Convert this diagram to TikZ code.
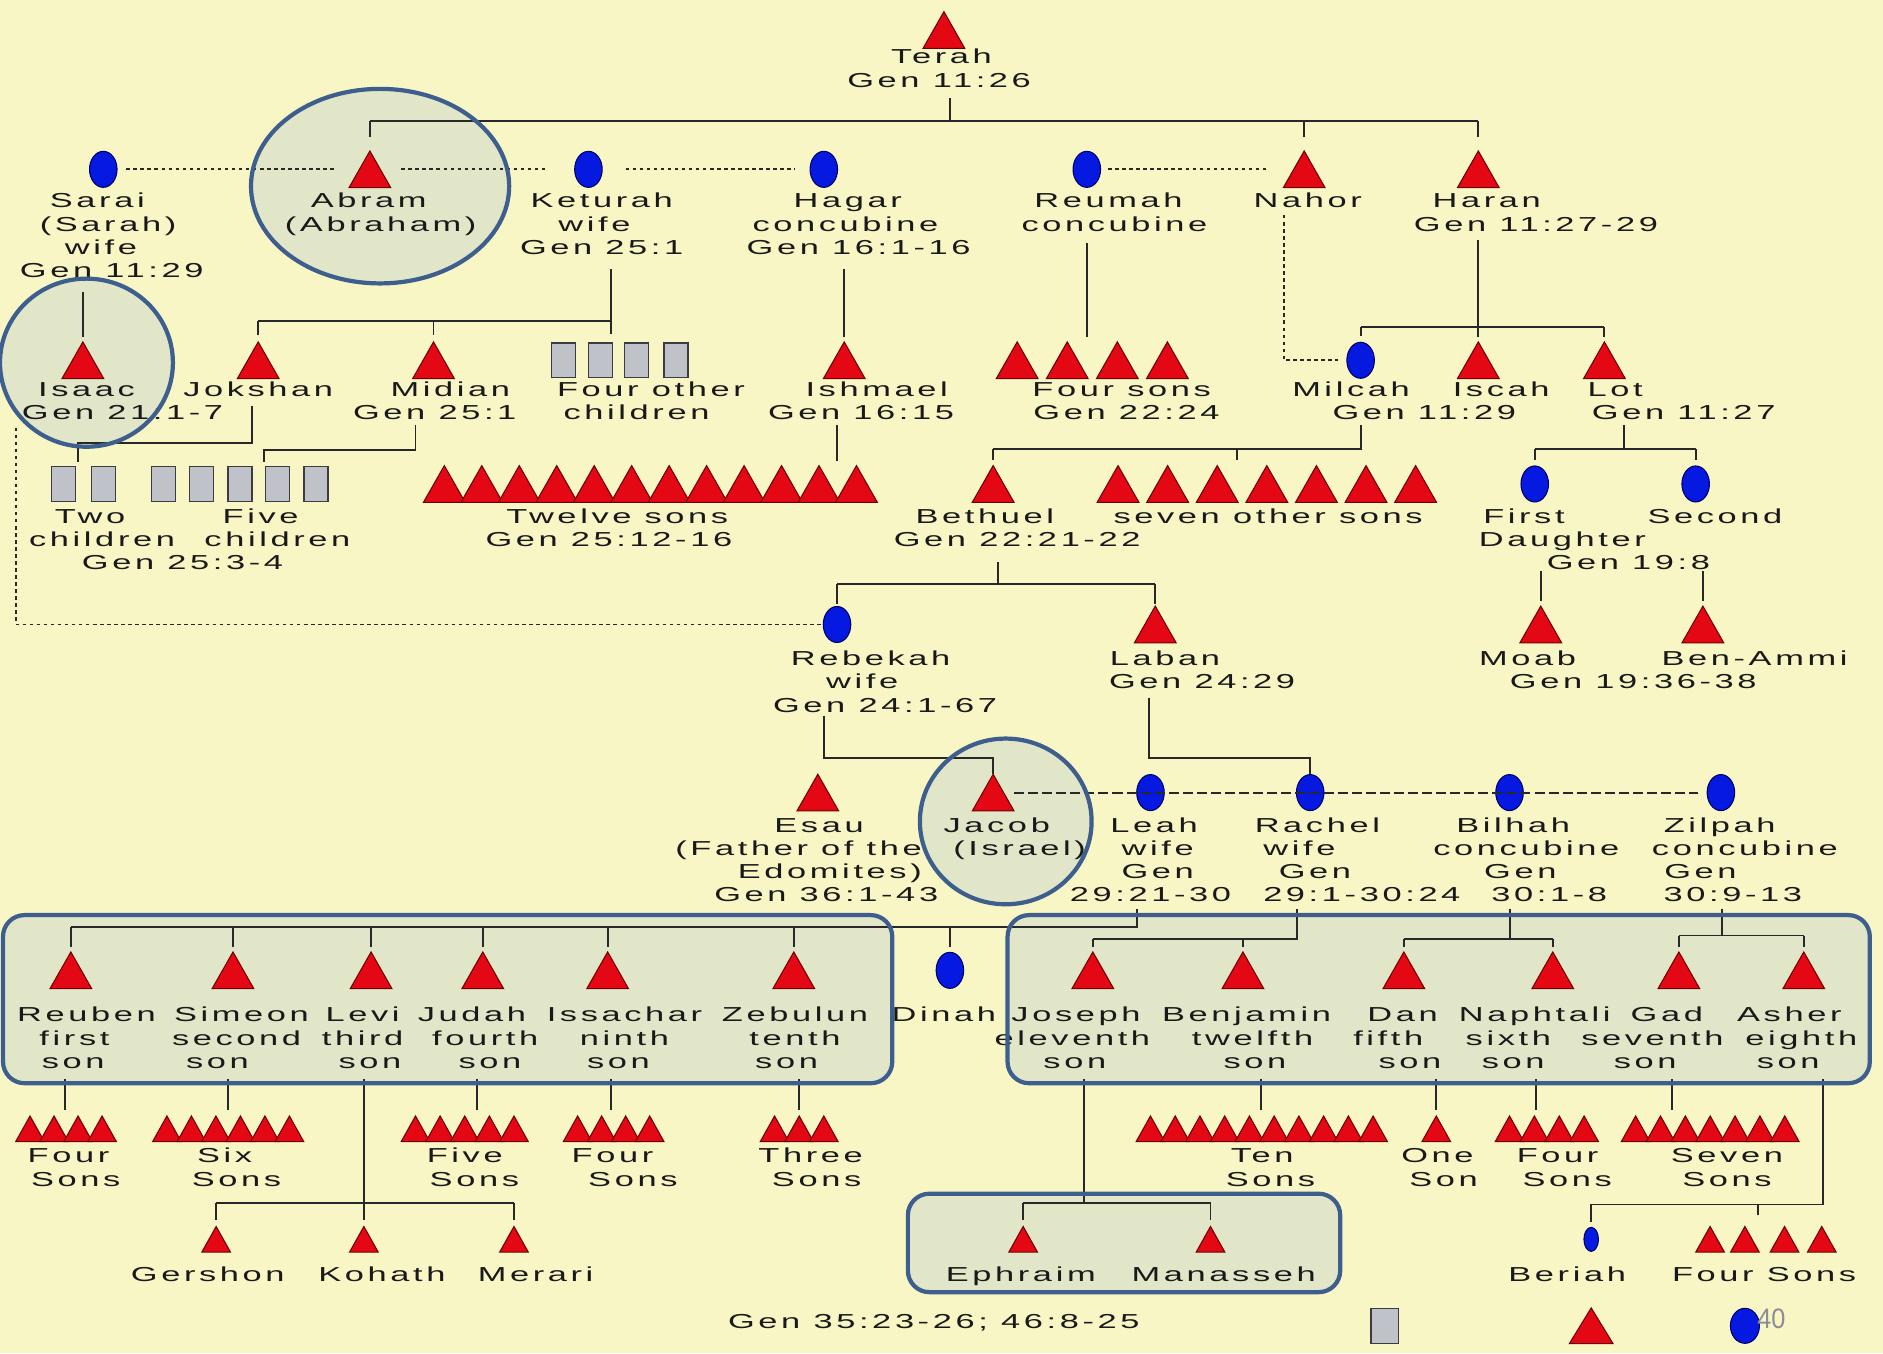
\documentclass[tikz,border=0pt]{standalone}
\usepackage{fontspec}
\setmainfont{Liberation Sans}[FakeStretch=1.7,LetterSpace=18]
\newfontfamily\pgfont{Liberation Sans}[FakeStretch=0.9]
\usetikzlibrary{shapes.geometric,calc}
\definecolor{bgcol}{RGB}{249,246,198}
\definecolor{hlfill}{RGB}{226,230,200}
\definecolor{hlline}{RGB}{62,94,142}
\definecolor{linecol}{RGB}{40,40,40}
\definecolor{txtcol}{RGB}{25,25,25}
\definecolor{redf}{RGB}{228,8,20}
\definecolor{redl}{RGB}{110,0,0}
\definecolor{bluef}{RGB}{5,25,225}
\definecolor{bluel}{RGB}{0,0,100}
\definecolor{greyf}{RGB}{192,194,202}
\definecolor{greyl}{RGB}{60,60,64}
\definecolor{pgcol}{RGB}{140,140,150}
\newcommand\lfont{\fontsize{11.5}{13.3}\selectfont}
\tikzset{
  ln/.style={line width=1.1pt,draw=linecol},
  dot/.style={ln,dash pattern=on 2pt off 2pt},
  dsh/.style={ln,dash pattern=on 5.7pt off 2.3pt},
  lab/.style={anchor=base,inner sep=0pt,text=txtcol,font=\lfont},
  bigtri/.style={inner sep=0pt,minimum width=0.82cm,minimum height=0.72cm},
  smalltri/.style={inner sep=0pt,minimum width=0.56cm,minimum height=0.5cm},
  legtri/.style={inner sep=0pt,minimum width=0.86cm,minimum height=0.7cm},
  trifill/.style={fill=redf,draw=redl,line width=0.6pt},
  ellnode/.style={ellipse,inner sep=0pt,minimum width=0.55cm,minimum height=0.72cm,fill=bluef,draw=bluel,line width=0.6pt},
  smallell/.style={ellnode,minimum width=0.29cm,minimum height=0.48cm},
  legell/.style={ellnode,minimum width=0.58cm,minimum height=0.7cm},
  rectg/.style={rectangle,inner sep=0pt,minimum width=0.48cm,minimum height=0.69cm,fill=greyf,draw=greyl,line width=0.8pt},
  legrect/.style={rectg,minimum width=0.55cm,minimum height=0.7cm},
  hlf/.style={fill=hlfill},
  hlo/.style={draw=hlline,line width=2.4pt},
}
\newcommand\tri[4][bigtri]{\node[#1] (#2) at (#3,#4) {};\filldraw[trifill] (#2.south west) -- (#2.south east) -- (#2.north) -- cycle;}
\newcommand\fem[4][ellnode]{\node[#1] (#2) at (#3,#4) {};}
\newcommand\gry[4][rectg]{\node[#1] (#2) at (#3,#4) {};}
\newcommand\lbl[4]{\node[lab] (#1) at (#2,#3) {#4};}
\newcommand\tick[3][3pt]{\draw[ln] (#2 -| #3) -- ([yshift=#1]#3.north);}
\begin{document}
\begin{tikzpicture}[x=0.024cm,y=-0.024cm]
\useasboundingbox (0,0) rectangle (1568,1127);
\fill[bgcol] (0,0) rectangle (1568,1127);
% highlight fills
\fill[hlf] (316.5,155) ellipse [x radius=2.58cm, y radius=1.944cm];
\fill[hlf] (72,302) ellipse [x radius=1.728cm, y radius=1.68cm];
\fill[hlf] (837.5,684) ellipse [x radius=1.716cm, y radius=1.656cm];
\fill[hlf,rounded corners=0.43cm] (2.5,762) rectangle (743,902);
\fill[hlf,rounded corners=0.43cm] (839,762) rectangle (1557,902);
\fill[hlf,rounded corners=0.43cm] (756,994) rectangle (1116,1076);
% ---------- shapes
\tri{terah}{786}{25}
\fem{sarai}{86}{141}
\tri{abram}{308}{141}
\fem{keturah}{490}{141}
\fem{hagar}{686}{141}
\fem{reumah}{905}{141}
\tri{nahor}{1086}{141}
\tri{haran}{1231}{141}
\tri{isaac}{69}{300}
\tri{jokshan}{215}{300}
\tri{midian}{361}{300}
\foreach \i/\x in {1/469,2/500,3/530,4/563}{\gry{oc\i}{\x}{300}}
\tri{ishmael}{703}{300}
\foreach \i in {0,...,3}{\tri{fs\i}{847+41.7*\i}{300}}
\fem{milcah}{1133}{300}
\tri{iscah}{1231}{300}
\tri{lot}{1336}{300}
\gry{tc1}{53}{403}
\gry{tc2}{86}{403}
\foreach \i/\x in {1/136,2/168,3/200,4/231,5/263}{\gry{fc\i}{\x}{403}}
\foreach \i in {0,...,11}{\tri{tw\i}{370+31.2*\i}{403}}
\tri{bethuel}{827}{403}
\foreach \i in {0,...,6}{\tri{sv\i}{931+41.3*\i}{403}}
\fem{first}{1278}{403}
\fem{second}{1412}{403}
\fem{rebekah}{697}{520}
\tri{laban}{962}{520}
\tri{moab}{1283}{520}
\tri{benammi}{1418}{520}
\tri{esau}{681}{660}
\tri{jacob}{827}{660}
\fem{leah}{958}{660}
\fem{rachel}{1091}{660}
\fem{bilhah}{1257}{660}
\fem{zilpah}{1433}{660}
\tri{reuben}{59}{808}
\tri{simeon}{194}{808}
\tri{levi}{309}{808}
\tri{judah}{402}{808}
\tri{issachar}{506}{808}
\tri{zebulun}{661}{808}
\fem{dinah}{791}{808}
\tri{joseph}{910}{808}
\tri{benjamin}{1035}{808}
\tri{dan}{1169}{808}
\tri{naphtali}{1293}{808}
\tri{gad}{1398}{808}
\tri{asher}{1502}{808}
\foreach \i in {0,...,3}{\tri[smalltri]{rs\i}{25+20*\i}{940}}
\foreach \i in {0,...,5}{\tri[smalltri]{ss\i}{139+20.4*\i}{940}}
\foreach \i in {0,...,4}{\tri[smalltri]{js\i}{346+20.5*\i}{940}}
\foreach \i in {0,...,3}{\tri[smalltri]{is\i}{481+20*\i}{940}}
\foreach \i in {0,...,2}{\tri[smalltri]{zs\i}{645+20.5*\i}{940}}
\foreach \i in {0,...,9}{\tri[smalltri]{bs\i}{958+20.6*\i}{940}}
\tri[smalltri]{ds0}{1196}{940}
\foreach \i in {0,...,3}{\tri[smalltri]{ns\i}{1257+20.7*\i}{940}}
\foreach \i in {0,...,6}{\tri[smalltri]{gs\i}{1362+20.7*\i}{940}}
\tri[smalltri]{gershon}{180}{1032}
\tri[smalltri]{kohath}{303}{1032}
\tri[smalltri]{merari}{428}{1032}
\tri[smalltri]{ephraim}{852}{1032}
\tri[smalltri]{manasseh}{1008}{1032}
\fem[smallell]{beriah}{1325}{1032}
\foreach \i/\x in {0/1424,1/1453,2/1486,3/1517}{\tri[smalltri]{as\i}{\x}{1032}}
\gry[legrect]{leg1}{1153}{1104}
\tri[legtri]{leg2}{1325}{1104}
\fem[legell]{leg3}{1453}{1104}
% ---------- labels
\lbl{terahA}{784}{53}{Terah}
\lbl{terahB}{782}{73}{Gen 11:26}
\lbl{saraiA}{81}{173}{Sarai}
\lbl{saraiB}{90}{192.4}{(Sarah)}
\lbl{saraiC}{84}{211.8}{wife}
\lbl{saraiD}{93}{231.2}{Gen 11:29}
\lbl{abramA}{307}{173}{Abram}
\lbl{abramB}{317}{192.4}{(Abraham)}
\lbl{keturahA}{501}{173}{Keturah}
\lbl{keturahB}{495}{192.4}{wife}
\lbl{keturahC}{501}{211.8}{Gen 25:1}
\lbl{hagarA}{706}{173}{Hagar}
\lbl{hagarB}{704}{192.4}{concubine}
\lbl{hagarC}{715}{211.8}{Gen 16:1-16}
\lbl{reumahA}{923}{173}{Reumah}
\lbl{reumahB}{928}{192.4}{concubine}
\lbl{nahorA}{1089}{173}{Nahor}
\lbl{haranA}{1238}{173}{Haran}
\lbl{haranB}{1279}{192.4}{Gen 11:27-29}
\lbl{isaacA}{72}{330}{Isaac}
\lbl{isaacB}{102}{349.4}{Gen 21:1-7}
\lbl{jokshanA}{215}{330}{Jokshan}
\lbl{midianA}{375}{330}{Midian}
\lbl{midianB}{362}{349.4}{Gen 25:1}
\lbl{otherA}{542}{330}{Four other}
\lbl{otherB}{530}{349.4}{children}
\lbl{ishmaelA}{730}{330}{Ishmael}
\lbl{ishmaelB}{717}{349.4}{Gen 16:15}
\lbl{foursonsA}{934}{330}{Four sons}
\lbl{foursonsB}{938}{349.4}{Gen 22:24}
\lbl{milcahA}{1125}{330}{Milcah}
\lbl{milcahB}{1186}{349.4}{Gen 11:29}
\lbl{iscahA}{1250}{330}{Iscah}
\lbl{lotA}{1345}{330}{Lot}
\lbl{lotB}{1402}{349.4}{Gen 11:27}
\lbl{twoA}{75}{436}{Two}
\lbl{twoB}{85}{455}{children}
\lbl{fiveA}{217}{436}{Five}
\lbl{fiveB}{231}{455}{children}
\lbl{genA}{152}{474}{Gen 25:3-4}
\lbl{twelveA}{514}{436}{Twelve sons}
\lbl{twelveB}{507}{455}{Gen 25:12-16}
\lbl{bethuelA}{820}{436}{Bethuel}
\lbl{bethuelB}{847}{455}{Gen 22:21-22}
\lbl{sevenA}{1056}{436}{seven other sons}
\lbl{firstA}{1269}{436}{First}
\lbl{firstB}{1301}{455}{Daughter}
\lbl{firstC}{1356}{474}{Gen 19:8}
\lbl{secondA}{1428}{436}{Second}
\lbl{rebekahA}{725}{554.5}{Rebekah}
\lbl{rebekahB}{718}{573.5}{wife}
\lbl{rebekahC}{737}{593}{Gen 24:1-67}
\lbl{labanA}{970}{554.5}{Laban}
\lbl{labanB}{1001}{573.5}{Gen 24:29}
\lbl{moabA}{1272}{554.5}{Moab}
\lbl{benammiA}{1461}{554.5}{Ben-Ammi}
\lbl{moabB}{1360}{573.5}{Gen 19:36-38}
\lbl{esauA}{682}{693}{Esau}
\lbl{esauB}{665}{712.3}{(Father of the}
\lbl{esauC}{691}{731.6}{Edomites)}
\lbl{esauD}{688}{750.9}{Gen 36:1-43}
\lbl{jacobA}{830}{693}{Jacob}
\lbl{jacobB}{849}{712.3}{(Israel)}
\lbl{leahA}{961}{693}{Leah}
\lbl{leahB}{964}{712.3}{wife}
\lbl{leahC}{964}{731.6}{Gen}
\lbl{leahD}{958}{750.9}{29:21-30}
\lbl{rachelA}{1097}{693}{Rachel}
\lbl{rachelB}{1082}{712.3}{wife}
\lbl{rachelC}{1095}{731.6}{Gen}
\lbl{rachelD}{1134}{750.9}{29:1-30:24}
\lbl{bilhahA}{1260}{693}{Bilhah}
\lbl{bilhahB}{1271}{712.3}{concubine}
\lbl{bilhahC}{1266}{731.6}{Gen}
\lbl{bilhahD}{1290}{750.9}{30:1-8}
\lbl{zilpahA}{1432}{693}{Zilpah}
\lbl{zilpahB}{1453}{712.3}{concubine}
\lbl{zilpahC}{1416}{731.6}{Gen}
\lbl{zilpahD}{1443}{750.9}{30:9-13}
% row 6
\lbl{reubenA}{72}{851}{Reuben}
\lbl{reubenB}{62}{870.5}{first}
\lbl{reubenC}{61}{890}{son}
\lbl{simeonA}{201}{851}{Simeon}
\lbl{simeonB}{197}{870.5}{second}
\lbl{simeonC}{181}{890}{son}
\lbl{leviA}{302}{851}{Levi}
\lbl{leviB}{302}{870.5}{third}
\lbl{leviC}{308}{890}{son}
\lbl{judahA}{393}{851}{Judah}
\lbl{judahB}{404}{870.5}{fourth}
\lbl{judahC}{408}{890}{son}
\lbl{issacharA}{520}{851}{Issachar}
\lbl{issacharB}{520}{870.5}{ninth}
\lbl{issacharC}{515}{890}{son}
\lbl{zebulunA}{662}{851}{Zebulun}
\lbl{zebulunB}{662}{870.5}{tenth}
\lbl{zebulunC}{655}{890}{son}
\lbl{dinahA}{786}{851}{Dinah}
\lbl{josephA}{896}{851}{Joseph}
\lbl{josephB}{893}{870.5}{eleventh}
\lbl{josephC}{895}{890}{son}
\lbl{benjaminA}{1038}{851}{Benjamin}
\lbl{benjaminB}{1043}{870.5}{twelfth}
\lbl{benjaminC}{1045}{890}{son}
\lbl{danA}{1168}{851}{Dan}
\lbl{danB}{1156}{870.5}{fifth}
\lbl{danC}{1174}{890}{son}
\lbl{naphtaliA}{1278}{851}{Naphtali}
\lbl{naphtaliB}{1256}{870.5}{sixth}
\lbl{naphtaliC}{1260}{890}{son}
\lbl{gadA}{1388}{851}{Gad}
\lbl{gadB}{1376}{870.5}{seventh}
\lbl{gadC}{1370}{890}{son}
\lbl{asherA}{1490}{851}{Asher}
\lbl{asherB}{1500}{870.5}{eighth}
\lbl{asherC}{1489}{890}{son}
% row 7
\lbl{rsA}{57}{968}{Four}
\lbl{rsB}{63}{988}{Sons}
\lbl{ssA}{187}{968}{Six}
\lbl{ssB}{197}{988}{Sons}
\lbl{jsA}{387}{968}{Five}
\lbl{jsB}{395}{988}{Sons}
\lbl{isA}{510}{968}{Four}
\lbl{isB}{527}{988}{Sons}
\lbl{zsA}{675}{968}{Three}
\lbl{zsB}{680}{988}{Sons}
\lbl{bsA}{1051}{968}{Ten}
\lbl{bsB}{1058}{988}{Sons}
\lbl{dsA}{1197}{968}{One}
\lbl{dsB}{1202}{988}{Son}
\lbl{nsA}{1297}{968}{Four}
\lbl{nsB}{1305}{988}{Sons}
\lbl{gsA}{1438}{968}{Seven}
\lbl{gsB}{1438}{988}{Sons}
% row 8
\lbl{gershonA}{173}{1067}{Gershon}
\lbl{kohathA}{318}{1067}{Kohath}
\lbl{merariA}{446}{1067}{Merari}
\lbl{ephraimA}{850}{1067}{Ephraim}
\lbl{manassehA}{1019}{1067}{Manasseh}
\lbl{beriahA}{1305}{1067}{Beriah}
\lbl{asA}{1469}{1067}{Four Sons}
\node[lab,anchor=base west] (caption) at (606,1106) {Gen 35:23-26; 46:8-25};
\node[anchor=base west,inner sep=0pt,text=pgcol,font=\pgfont\fontsize{16}{16}\selectfont] (pgnum) at (1463,1106) {40};
% ---------- connectors
% Terah
\coordinate (jT) at (791,101);
\draw[ln] ([yshift=-6pt]terahB.base -| jT) -- (jT);
\draw[ln] (jT -| abram) -- (jT -| haran);
\tick[8pt]{jT}{abram}
\tick[8pt]{jT}{nahor}
\tick[8pt]{jT}{haran}
% marriages row 1
\draw[dot] ([xshift=5pt]sarai.east) -- ([xshift=-8pt]abram.west);
\draw[dot] ([xshift=6pt]abram.east) -- ([xshift=-15pt]keturah.west);
\draw[dot] ([xshift=13pt]keturah.east) -- ([xshift=-8pt]hagar.west);
\draw[dot] ([xshift=4pt]reumah.east) -- ([xshift=-8pt]nahor.west);
% Sarai -> Isaac
\draw[ln] ([yshift=-8pt]saraiD.base -| isaac) -- ([yshift=3pt]isaac.north);
% Keturah
\coordinate (jK) at (509,267);
\draw[ln] ([yshift=-8.5pt]keturahC.base -| jK) -- (jK);
\draw[ln] (jK -| jokshan) -- (jK) -- ([yshift=5pt]jK |- oc1.north);
\tick[4pt]{jK}{jokshan}
\tick[4pt]{jK}{midian}
% Hagar
\draw[ln] ([yshift=-8.5pt]hagarC.base -| ishmael) -- ([yshift=3pt]ishmael.north);
% Reumah
\draw[ln] ([yshift=-7pt]reumahB.base -| reumah) -- ([yshift=3pt]fs1.north -| reumah);
% Nahor - Milcah
\coordinate (nq) at (1069,179);
\draw[dot] (nq) |- ([xshift=-5pt]milcah.west);
% Haran
\coordinate (jH) at (1231,272);
\draw[ln] ([yshift=-5pt]haranB.base -| iscah) -- ([yshift=3pt]iscah.north);
\draw[ln] (jH -| milcah) -- (jH -| lot);
\tick{jH}{milcah}
\tick{jH}{lot}
% Jokshan
\coordinate (jJ) at (210,369);
\coordinate (tcT) at (65,385);
\draw[ln] ([yshift=-5.5pt]jokshanA.base -| jJ) -- (jJ) -| (tcT);
% Midian
\coordinate (jMd) at (346,375);
\coordinate (fcT) at (220,385);
\draw[ln] ([yshift=-3pt]midianB.base -| jMd) -- (jMd) -| (fcT);
% Ishmael
\coordinate (twT) at (697,384);
\draw[ln] ([yshift=-3pt]ishmaelB.base -| twT) -- (twT);
% Isaac - Rebekah
\coordinate (iq) at (13,356);
\draw[dot] (iq) |- (rebekah.west);
% Milcah
\coordinate (jMi) at (1133,374);
\draw[ln] ([yshift=-3pt]milcahB.base -| jMi) -- (jMi) -- (jMi -| bethuel);
\tick{jMi}{bethuel}
\coordinate (svT) at (1030,383);
\draw[ln] (svT |- jMi) -- (svT);
% Lot
\coordinate (jL) at (1352,374);
\draw[ln] ([yshift=-3pt]lotB.base -| jL) -- (jL);
\draw[ln] (jL -| first) -- (jL -| second);
\tick{jL}{first}
\tick{jL}{second}
\draw[ln] ([yshift=-1pt]firstC.base -| moab) -- ([yshift=3pt]moab.north);
\draw[ln] ([yshift=-1pt]firstC.base -| benammi) -- ([yshift=3pt]benammi.north);
% Bethuel
\coordinate (jB) at (831,486);
\draw[ln] ([yshift=-9pt]bethuelB.base -| jB) -- (jB);
\draw[ln] (jB -| rebekah) -- (jB -| laban);
\tick[1pt]{jB}{rebekah}
\tick[1pt]{jB}{laban}
% Rebekah
\coordinate (jR) at (686,631);
\draw[ln] ([yshift=-2pt]rebekahC.base -| jR) -- (jR) -| (jacob.north);
% Laban
\coordinate (jLa) at (957,631);
\draw[ln] ([yshift=-5pt]labanB.base -| jLa) -- (jLa) -| (rachel.north);
% Jacob wives
\draw[dsh] (jacob.east) -- ([xshift=-5pt]zilpah.west);
% Leah
\coordinate (jLe) at (947,772);
\draw[ln] ([yshift=-4pt]leahD.base -| jLe) -- (jLe) -- (jLe -| reuben);
\foreach \c in {reuben,simeon,levi,judah,issachar,zebulun,dinah}{\tick{jLe}{\c}}
% Rachel
\coordinate (jRa) at (1080,782);
\draw[ln] ([yshift=-4pt]rachelD.base -| jRa) -- (jRa) -- (jRa -| joseph);
\tick{jRa}{joseph}
\tick{jRa}{benjamin}
% Bilhah
\coordinate (jBi) at (1257,782);
\draw[ln] ([yshift=-4pt]bilhahD.base -| jBi) -- (jBi);
\draw[ln] (jBi -| dan) -- (jBi -| naphtali);
\tick{jBi}{dan}
\tick{jBi}{naphtali}
% Zilpah
\coordinate (jZ) at (1434,779);
\draw[ln] ([yshift=-4pt]zilpahD.base -| jZ) -- (jZ);
\draw[ln] (jZ -| gad) -- (jZ -| asher);
\tick{jZ}{gad}
\tick{jZ}{asher}
% grandchildren
\coordinate (rsT) at (54,924);
\coordinate (ssT) at (190,924);
\coordinate (jsT) at (397,924);
\coordinate (isT) at (509,924);
\coordinate (zsT) at (665,924);
\coordinate (bsT) at (1050,924);
\coordinate (dsT) at (1196,924);
\coordinate (nsT) at (1279,924);
\coordinate (gsT) at (1392,924);
\draw[ln] ([yshift=-6pt]reubenC.base -| rsT) -- (rsT);
\draw[ln] ([yshift=-6pt]simeonC.base -| ssT) -- (ssT);
\draw[ln] ([yshift=-6pt]judahC.base -| jsT) -- (jsT);
\draw[ln] ([yshift=-6pt]issacharC.base -| isT) -- (isT);
\draw[ln] ([yshift=-6pt]zebulunC.base -| zsT) -- (zsT);
\draw[ln] ([yshift=-6pt]benjaminC.base -| bsT) -- (bsT);
\draw[ln] ([yshift=-6pt]danC.base -| dsT) -- (dsT);
\draw[ln] ([yshift=-6pt]naphtaliC.base -| nsT) -- (nsT);
\draw[ln] ([yshift=-6pt]gadC.base -| gsT) -- (gsT);
% Levi
\coordinate (jLv) at (303,1002);
\draw[ln] ([yshift=-6pt]leviC.base -| jLv) -- ([yshift=3.5pt]kohath.north);
\draw[ln] (jLv -| gershon) -- (jLv -| merari);
\tick[3.5pt]{jLv}{gershon}
\tick[3.5pt]{jLv}{merari}
% Joseph
\coordinate (jJo) at (903,1002);
\draw[ln] ([yshift=-6pt]josephC.base -| jJo) -- (jJo);
\draw[ln] (jJo -| ephraim) -- (jJo -| manasseh);
\tick[3.5pt]{jJo}{ephraim}
\tick[3.5pt]{jJo}{manasseh}
% Asher
\coordinate (jA) at (1518,1003);
\coordinate (asT) at (1464,1012);
\draw[ln] ([yshift=-6pt]asherC.base -| jA) -- (jA) -| ([yshift=3pt]beriah.north);
\draw[ln] (asT |- jA) -- (asT);
% highlight outlines
\draw[hlo] (316.5,155) ellipse [x radius=2.58cm, y radius=1.944cm];
\draw[hlo] (72,302) ellipse [x radius=1.728cm, y radius=1.68cm];
\draw[hlo] (837.5,684) ellipse [x radius=1.716cm, y radius=1.656cm];
\draw[hlo,rounded corners=0.43cm] (2.5,762) rectangle (743,902);
\draw[hlo,rounded corners=0.43cm] (839,762) rectangle (1557,902);
\draw[hlo,rounded corners=0.43cm] (756,994) rectangle (1116,1076);
\end{tikzpicture}
\end{document}
